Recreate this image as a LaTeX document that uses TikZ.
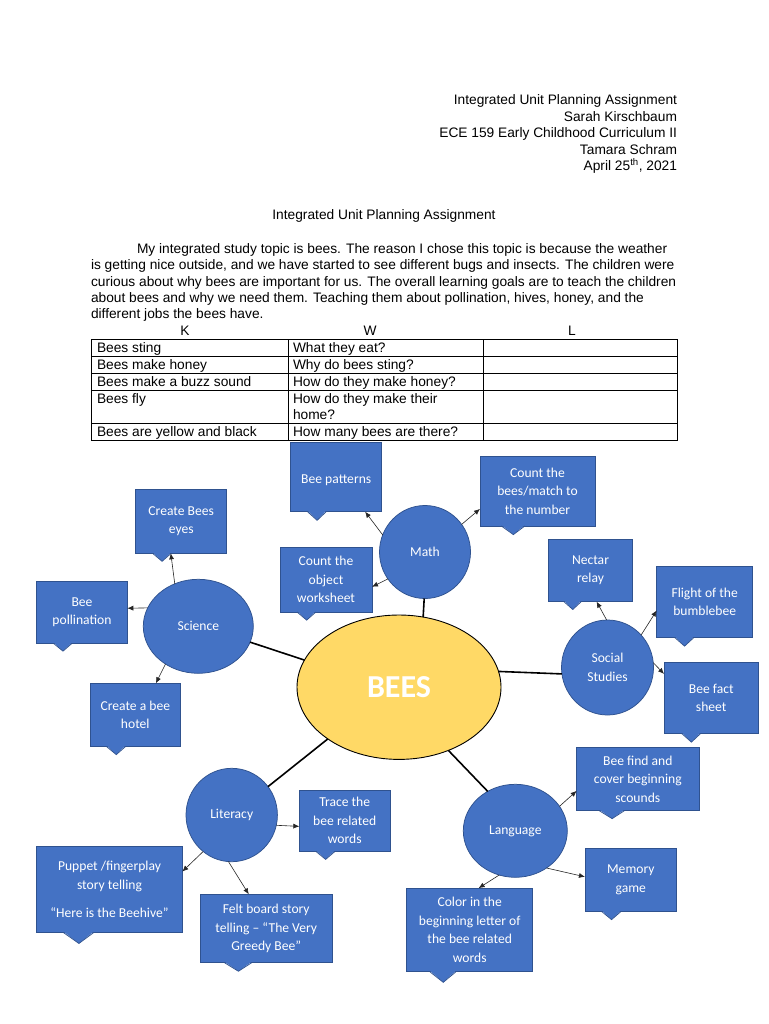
\documentclass[tikz,border=0pt]{standalone}
\usepackage{fontspec}
\setmainfont{Liberation Sans}
\newfontfamily\calibfont{Carlito}
\usetikzlibrary{calc,arrows.meta,shapes.geometric}
\definecolor{boxblue}{HTML}{4472C4}
\definecolor{boxborder}{HTML}{2F528F}
\definecolor{beeyellow}{HTML}{FFD966}
\tikzset{
  bodytext/.style={font=\fontsize{13.75}{16.5}\selectfont, inner sep=0pt, outer sep=0pt, text=black},
  callbox/.style={rectangle, fill=boxblue, draw=boxborder, line width=0.75pt, inner sep=0pt, outer sep=0pt,
    text=white, align=center, font=\calibfont\fontsize{13.6}{18.5}\selectfont,
    execute at begin node={\rule{0pt}{14pt}}},
  topic/.style={ellipse, fill=boxblue, draw=boxborder, line width=0.75pt, inner sep=0pt, outer sep=0pt,
    text=white, align=center, font=\calibfont\fontsize{13.6}{18.5}\selectfont},
  arr/.style={-{Latex[length=6pt,width=5pt]}, line width=0.6pt, black!85},
  link/.style={line width=1.6pt, black},
  grid/.style={line width=0.8pt, black}
}
\newcommand\callout[6]{%
  \node[callbox, minimum width=#4pt, minimum height=#5pt] (#1) at (#2,#3) {#6};
  \pgfmathsetmacro\cbl{0.185*#4}%
  \pgfmathsetmacro\cbr{0.39*#4}%
  \pgfmathsetmacro\ctx{0.29*#4}%
  \pgfmathsetmacro\cty{0.125*#5}%
  \fill[boxblue] ([shift={(\cbl,-1)}]#1.south west) -- ([shift={(\ctx,\cty)}]#1.south west) -- ([shift={(\cbr,-1)}]#1.south west) -- cycle;
  \draw[boxborder, line width=0.75pt] ([shift={(\cbl,0)}]#1.south west) -- ([shift={(\ctx,\cty)}]#1.south west) -- ([shift={(\cbr,0)}]#1.south west);
}
\begin{document}
\begin{tikzpicture}[x=1pt,y=-1pt]
\fill[white] (0,0) rectangle (768,1024);
\useasboundingbox (0,0) rectangle (768,1024);

% header
\node[bodytext, anchor=base east] (h1) at (677,105) {Integrated Unit Planning Assignment};
\node[bodytext, anchor=base east] (h2) at (677,121.5) {Sarah Kirschbaum};
\node[bodytext, anchor=base east] (h3) at (677,138) {ECE 159 Early Childhood Curriculum II};
\node[bodytext, anchor=base east] (h4) at (677,154.5) {Tamara Schram};
\node[bodytext, anchor=base east] (h5) at (677,171) {April 25\textsuperscript{th}, 2021};

\node[bodytext, anchor=base] (title) at (384,220) {Integrated Unit Planning Assignment};

\node[bodytext, anchor=base west] (p1) at (137,253) {My integrated study topic is bees. The reason I chose this topic is because the weather};
\node[bodytext, anchor=base west] (p2) at (91,269.5) {is getting nice outside, and we have started to see different bugs and insects. The children were};
\node[bodytext, anchor=base west] (p3) at (91,286) {curious about why bees are important for us. The overall learning goals are to teach the children};
\node[bodytext, anchor=base west] (p4) at (91,302) {about bees and why we need them. Teaching them about pollination, hives, honey, and the};
\node[bodytext, anchor=base west] (p5) at (91,318.5) {different jobs the bees have.};

% KWL table
\node[bodytext, anchor=base] (colK) at (185,335) {K};
\node[bodytext, anchor=base] (colW) at (370,335) {W};
\node[bodytext, anchor=base] (colL) at (572,335) {L};
\draw[grid] (91,339) rectangle (677,440);
\draw[grid] (288,339) -- (288,440);
\draw[grid] (483,339) -- (483,440);
\draw[grid] (91,356) -- (677,356);
\draw[grid] (91,373) -- (677,373);
\draw[grid] (91,390) -- (677,390);
\draw[grid] (91,423) -- (677,423);
\node[bodytext, anchor=base west] (k1) at (97,352) {Bees sting};
\node[bodytext, anchor=base west] (k2) at (97,369) {Bees make honey};
\node[bodytext, anchor=base west] (k3) at (97,386) {Bees make a buzz sound};
\node[bodytext, anchor=base west] (k4) at (97,403) {Bees fly};
\node[bodytext, anchor=base west] (k5) at (97,436) {Bees are yellow and black};
\node[bodytext, anchor=base west] (w1) at (293,352) {What they eat?};
\node[bodytext, anchor=base west] (w2) at (293,369) {Why do bees sting?};
\node[bodytext, anchor=base west] (w3) at (293,386) {How do they make honey?};
\node[bodytext, anchor=base west] (w4) at (293,403) {How do they make their};
\node[bodytext, anchor=base west] (w4b) at (293,419) {home?};
\node[bodytext, anchor=base west] (w5) at (293,436) {How many bees are there?};

% callouts
\callout{beepat}{336.2}{477.2}{91}{69}{Bee patterns}
\callout{countbees}{537.5}{491.3}{115}{69.3}{Count the\\bees/match to\\the number}
\callout{countobj}{326}{579.5}{92}{65}{Count the\\object\\worksheet}
\callout{createeyes}{181.2}{521.3}{91}{64}{Create Bees\\eyes}
\callout{beepoll}{82}{612.2}{90.6}{62.3}{Bee\\pollination}
\callout{beehotel}{135.3}{715}{90.7}{63.4}{Create a bee\\hotel}
\callout{nectar}{590.5}{570.3}{84.4}{62.7}{Nectar\\relay}
\callout{flight}{704.7}{602}{96}{70.6}{Flight of the\\bumblebee}
\callout{factsheet}{711.2}{698}{94.3}{70.6}{Bee fact\\sheet}
\callout{trace}{344.7}{820.8}{90.7}{61.7}{Trace the\\bee related\\words}
\callout{puppet}{109.5}{889.7}{145.6}{86}{Puppet /fingerplay\\story telling\\[10pt]“Here is the Beehive”}
\callout{felt}{266.2}{928.5}{132.3}{68.4}{Felt board story\\telling – “The Very\\Greedy Bee”}
\callout{beefind}{637.8}{779}{122.3}{63.4}{Bee find and\\cover beginning\\scounds}
\callout{memory}{630.8}{880}{91.7}{63.4}{Memory\\game}
\callout{colorin}{469.7}{930}{126}{83.7}{Color in the\\beginning letter of\\the bee related\\words}

% topic ellipses
\node[topic, minimum width=91pt, minimum height=93pt] (math) at (425,552) {Math};
\node[topic, minimum width=110pt, minimum height=94pt] (science) at (198.3,626.3) {Science};
\node[topic, minimum width=92pt, minimum height=95pt] (social) at (607.5,667.5) {Social\\Studies};
\node[topic, minimum width=91.4pt, minimum height=93.4pt] (literacy) at (231.7,815) {Literacy};
\node[topic, minimum width=104pt, minimum height=93pt] (language) at (515.3,830.8) {Language};
\node[ellipse, fill=beeyellow, draw=black, line width=0.9pt, inner sep=0pt, outer sep=0pt,
  minimum width=204pt, minimum height=144.4pt, text=white,
  font=\calibfont\bfseries\fontsize{32}{36}\selectfont] (bees) at (399,687.2) {BEES};

% links to centre
\draw[link] (math.-91) -- (bees.71);
\draw[link] (science.-17.7) -- (bees.164.2);
\draw[link] (social.188.1) -- (bees.9.9);
\draw[link] (literacy.38.4) -- (bees.-144.6);
\draw[link] (bees.-52.5) -- (language.125.8);

% arrows to activities
\draw[arr] (math.158.6) -- (beepat.-50.2);
\draw[arr] (math.37.3) -- (countbees.-163.6);
\draw[arr] (math.-144.8) -- (countobj.-9.7);
\draw[arr] (science.119.3) -- (createeyes.-108.4);
\draw[arr] (science.160.2) -- (beepoll.5.3);
\draw[arr] (science.-131.5) -- (beehotel.57.1);
\draw[arr] (social.91) -- (nectar.-79.4);
\draw[arr] (social.44.1) -- (flight.-170);
\draw[arr] (social.6.3) -- (factsheet.153);
\draw[arr] (literacy.-13.4) -- (trace.187.5);
\draw[arr] (literacy.-128.5) -- (puppet.14);
\draw[arr] (literacy.-94) -- (felt.117.8);
\draw[arr] (language.29.7) -- (beefind.191.3);
\draw[arr] (language.-50.8) -- (memory.176.7);
\draw[arr] (language.-110) -- (colorin.78.8);
\end{tikzpicture}
\end{document}
